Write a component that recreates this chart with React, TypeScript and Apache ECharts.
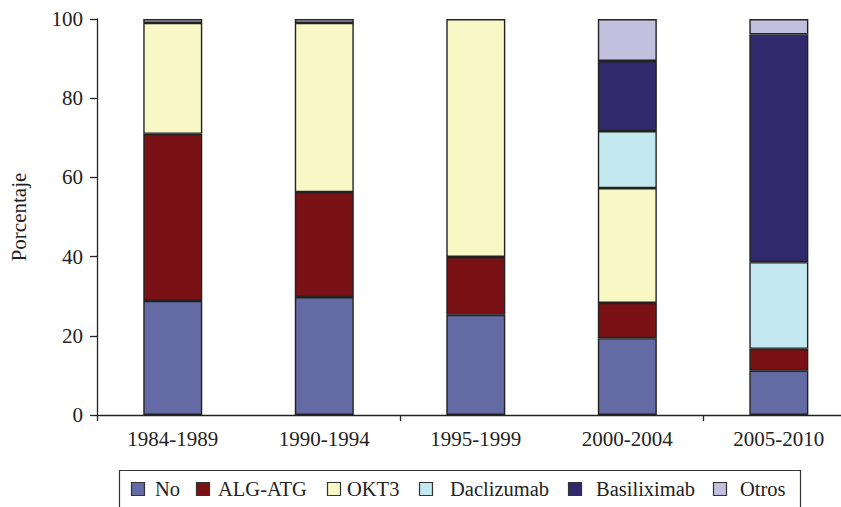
import React, { useEffect, useRef } from "react";
import * as echarts from "echarts";

const categories = ["1984-1989", "1990-1994", "1995-1999", "2000-2004", "2005-2010"];
const seriesNames = ["No", "ALG-ATG", "OKT3", "Daclizumab", "Basiliximab", "Otros"];
const noValues = [28.8, 29.8, 25.3, 19.4, 11.2];
const algValues = [42.2, 26.5, 14.6, 8.9, 5.5];
const okt3Values = [28.0, 42.7, 60.1, 29.0, null];
const daclValues = [null, null, null, 14.4, 21.9];
const basilValues = [null, null, null, 17.7, 57.5];
const otrosValues = [1.0, 1.0, null, 10.6, 3.9];
const yTicks = [0, 20, 40, 60, 80, 100];

const colors = ["#636AA4", "#7A1215", "#F8F7C6", "#C4E8EF", "#302A6C", "#C2C0DF"];
const FONT = "Liberation Serif";

// legend layout (pixel positions of square and label)
const legendSquareX = [131, 196, 327, 419, 568, 713];
const legendTextX = [155, 218, 347, 450, 596, 740];

const CHART_W = 860;

export default function App() {
  const ref = useRef<HTMLDivElement>(null);
  useEffect(() => {
    document.body.style.margin = "0";
    document.body.style.overflow = "hidden";
    if (!ref.current) return;
    const chart = echarts.init(ref.current, undefined, { renderer: "svg" });
    const allValues = [noValues, algValues, okt3Values, daclValues, basilValues, otrosValues];
    const legendChildren: any[] = [
      {
        type: "rect",
        shape: { x: 119.5, y: 470.5, width: 681, height: 60 },
        style: { fill: "#fff", stroke: "#333", lineWidth: 1.2 },
      },
    ];
    seriesNames.forEach((n, i) => {
      legendChildren.push({
        type: "rect",
        shape: { x: legendSquareX[i] + 0.5, y: 482.5, width: 13, height: 13 },
        style: { fill: colors[i], stroke: "#333", lineWidth: 1.2 },
      });
      legendChildren.push({
        type: "text",
        x: legendTextX[i],
        y: 489,
        style: {
          text: n,
          fill: "#222",
          font: "20.5px \"Liberation Serif\", serif",
          fontSize: 20.5,
          fontFamily: FONT,
          verticalAlign: "middle",
          align: "left",
        },
      });
    });
    chart.setOption({
      animation: false,
      textStyle: { fontFamily: FONT },
      grid: { left: 93.5, right: CHART_W - 854.6, top: 19, height: 396, containLabel: false },
      xAxis: {
        type: "category",
        data: categories,
        boundaryGap: true,
        axisLine: { lineStyle: { color: "#222", width: 1.3 } },
        axisTick: { show: true, interval: 1, length: 6, lineStyle: { color: "#222", width: 1.3 } },
        axisLabel: { color: "#222", fontSize: 21, fontFamily: FONT, margin: 13, interval: 0 },
      },
      yAxis: {
        type: "value",
        min: yTicks[0],
        max: yTicks[yTicks.length - 1],
        interval: 20,
        name: "Porcentaje",
        nameLocation: "middle",
        nameGap: 68,
        nameTextStyle: { color: "#222", fontSize: 21, fontFamily: FONT },
        axisLine: { show: true, lineStyle: { color: "#222", width: 1.3 } },
        axisTick: { show: true, length: 7, lineStyle: { color: "#222", width: 1.3 } },
        axisLabel: { color: "#222", fontSize: 21, fontFamily: FONT, margin: 14 },
        splitLine: { show: false },
      },
      series: seriesNames.map((n, i) => ({
        name: n,
        type: "bar",
        stack: "total",
        barWidth: 59,
        data: allValues[i],
        itemStyle: { color: colors[i], borderColor: "#222", borderWidth: 1.4 },
      })),
      graphic: [{ type: "group", children: legendChildren }],
    });
    return () => chart.dispose();
  }, []);
  return <div ref={ref} style={{ width: CHART_W, height: 507 }} />;
}
